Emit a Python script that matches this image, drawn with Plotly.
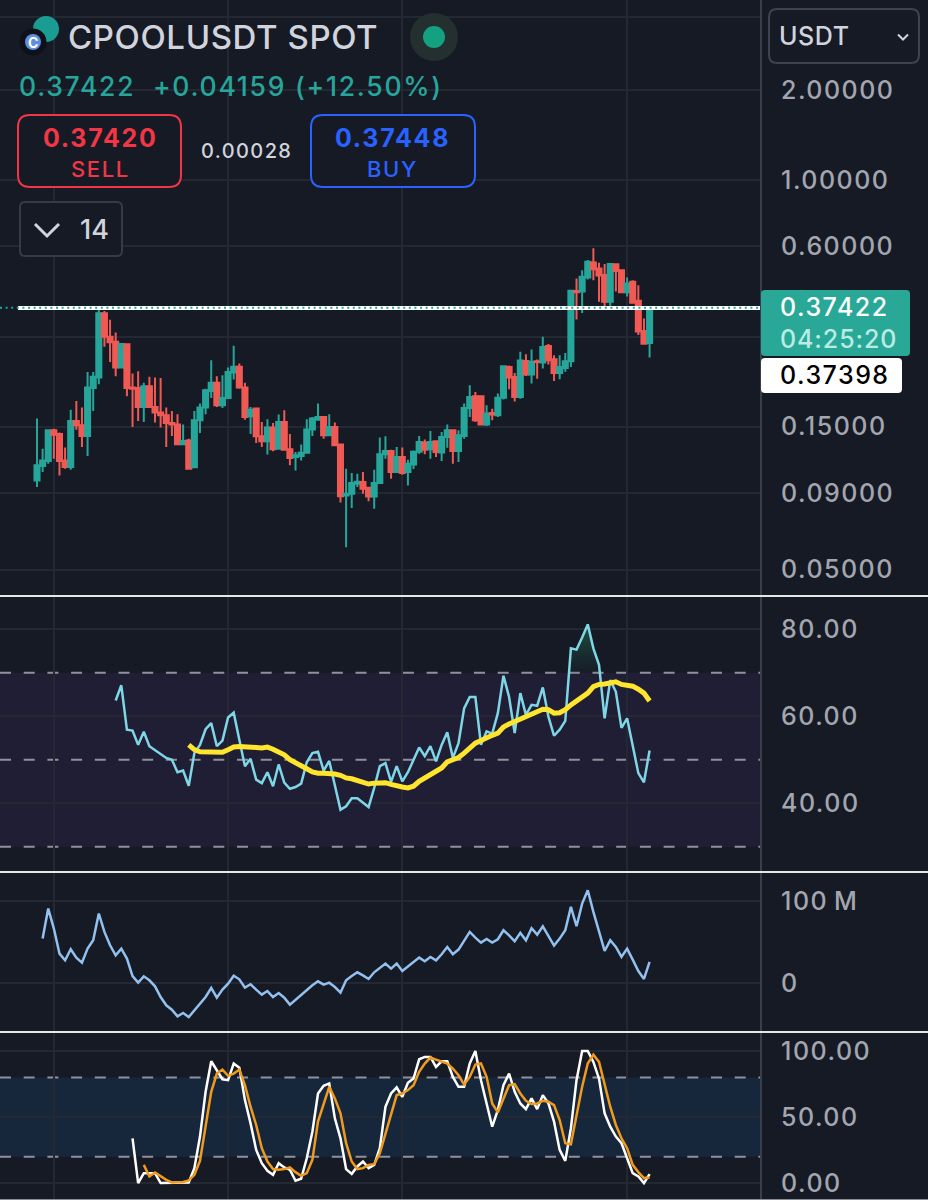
import numpy as np
import plotly.graph_objects as go

# candles, oldest first
open_prices = [
    .0992, .1108, .1151, .1458, .1418, .1157, .1100, .1568, .1517, .1397,
    .2020, .2189, .3591, .2995, .2884, .2364, .2826, .2027, .2020, .1746,
    .2048, .1746, .1672, .1638, .1544, .1525, .1310, .1350, .1097, .1575,
    .1737, .1974, .2101, .1769, .1871, .2275, .2377, .2027, .1625, .1724,
    .1393, .1340, .1490, .1267, .1556, .1260, .1188, .1198, .1228, .1469,
    .1583, .1617, .1404, .1497, .1307, .0883, .0896, .0968, .0980, .0938,
    .0877, .0972, .1213, .1244, .1058, .1188, .1058, .1121, .1238, .1327,
    .1260, .1340, .1229, .1386, .1458, .1244, .1397, .1733, .1896, .1896,
    .1525, .1667, .1638, .1872, .2374, .2200, .1886, .2488, .2240, .2480,
    .2455, .2790, .2520, .2268, .2355, .2480, .4260, .4240, .4725, .5307,
    .5062, .4815, .3920, .5227, .5000, .4216, .4572, .3950, .3130, .2855,
]
high_prices = [
    .1596, .1267, .1466, .1477, .1434, .1277, .1710, .1827, .1737, .2286,
    .2286, .3725, .3652, .3417, .3096, .2848, .2833, .2258, .2298, .2101,
    .2201, .2189, .2183, .1737, .1691, .1651, .1525, .1368, .1691, .1792,
    .2008, .2500, .2212, .2229, .2364, .2797, .2438, .2101, .1746, .1737,
    .1556, .1587, .1544, .1647, .1701, .1418, .1235, .1307, .1587, .1617,
    .1792, .1625, .1651, .1548, .1310, .1086, .1050, .1045, .1058, .0943,
    .1077, .1379, .1393, .1255, .1283, .1277, .1163, .1250, .1397, .1360,
    .1451, .1350, .1440, .1525, .1465, .1458, .1792, .2064, .1960, .1910,
    .1770, .1722, .1935, .2400, .2400, .2268, .2670, .2620, .2715, .2513,
    .2995, .2835, .2600, .2600, .2645, .4290, .4692, .5000, .5400, .5913,
    .5294, .5240, .5266, .5266, .5038, .4725, .4630, .4450, .3450, .3742,
]
low_prices = [
    .0943, .1058, .1128, .1173, .1031, .1086, .1077, .1465, .1283, .1198,
    .1693, .2080, .2776, .2469, .2212, .2351, .1896, .1497, .1568, .1556,
    .1740, .1548, .1490, .1283, .1397, .1303, .1300, .1080, .1094, .1430,
    .1651, .1871, .1746, .1733, .1861, .2155, .2008, .1583, .1418, .1323,
    .1283, .1210, .1241, .1260, .1250, .1114, .1071, .1157, .1225, .1397,
    .1575, .1368, .1397, .1293, .0837, .0594, .0803, .0943, .0896, .0845,
    .0798, .0968, .1173, .1005, .1052, .1037, .0955, .1084, .1219, .1213,
    .1173, .1188, .1151, .1276, .1127, .1143, .1368, .1617, .1555, .1517,
    .1508, .1575, .1617, .1847, .2000, .1822, .1860, .2213, .2090, .2170,
    .2345, .2420, .2132, .2160, .2287, .2374, .3420, .3598, .4655, .4630,
    .3920, .3735, .3790, .4240, .4190, .4080, .3870, .3035, .2820, .2554,
]
close_prices = [
    .1114, .1157, .1458, .1411, .1151, .1100, .1568, .1517, .1397, .2027,
    .2201, .3591, .2995, .2870, .2364, .2833, .2020, .2008, .1746, .2048,
    .1746, .1672, .1638, .1544, .1525, .1310, .1343, .1086, .1575, .1737,
    .1984, .2101, .1769, .1871, .2286, .2377, .2027, .1617, .1710, .1393,
    .1340, .1490, .1260, .1556, .1256, .1179, .1204, .1228, .1469, .1596,
    .1617, .1404, .1497, .1300, .0878, .0896, .0972, .0982, .0931, .0877,
    .0972, .1213, .1244, .1058, .1188, .1050, .1127, .1238, .1333, .1256,
    .1333, .1235, .1386, .1458, .1244, .1404, .1733, .1886, .1575, .1525,
    .1659, .1646, .1872, .2389, .2189, .1886, .2494, .2240, .2470, .2465,
    .2770, .2500, .2268, .2374, .2480, .4267, .4216, .4753, .5334, .5038,
    .4795, .3920, .5240, .4965, .4216, .4512, .3890, .3120, .2840, .37422,
]

# indicators, all end on the last candle
rsi_values = [
    63.6, 67.1, 56.9, 56.7, 53.4, 56.4, 53.1, 52.2, 51.4, 50.4, 50.0, 47.1,
    47.5, 44.0, 51.5, 53.4, 57.0, 58.4, 53.1, 54.4, 59.7, 60.8, 54.6, 48.5,
    50.2, 45.4, 44.6, 47.1, 43.9, 48.9, 44.7, 43.3, 43.7, 44.5, 49.4, 51.5,
    51.8, 47.5, 49.7, 44.3, 38.5, 39.3, 41.1, 41.1, 40.1, 39.1, 43.5, 48.5,
    49.2, 44.9, 48.5, 45.0, 47.1, 50.0, 52.8, 50.8, 53.1, 49.6, 53.4, 56.3,
    50.4, 53.8, 61.8, 64.4, 64.4, 53.4, 56.5, 56.0, 60.7, 69.3, 64.4, 56.1,
    65.3, 60.3, 62.6, 62.4, 66.6, 59.9, 55.5, 56.9, 58.9, 75.6, 75.3, 78.1,
    81.1, 75.6, 71.8, 59.5, 68.3, 65.6, 57.3, 59.5, 53.1, 46.9, 44.8, 52.1,
]
rsi_ma_values = [
    53.4, 52.3, 51.8, 51.8, 51.8, 51.8, 51.7, 52.3, 52.9, 53.0, 53.0, 53.0,
    52.8, 52.7, 52.9, 52.4, 51.9, 51.1, 50.0, 49.4, 48.7, 47.9, 47.2, 46.9,
    46.9, 46.9, 46.7, 46.4, 45.8, 45.6, 45.1, 44.7, 44.4, 44.6, 44.7, 44.7,
    44.3, 43.9, 43.7, 43.5, 43.9, 45.0, 45.8, 46.6, 47.2, 48.1, 49.5, 50.0,
    50.5, 51.5, 52.7, 53.8, 54.4, 55.1, 55.6, 56.1, 57.5, 58.2, 58.8, 59.4,
    59.7, 60.5, 61.2, 61.6, 61.5, 60.7, 60.8, 61.5, 62.6, 63.6, 64.4, 65.3,
    66.8, 67.3, 67.4, 67.7, 67.9, 67.3, 67.2, 66.9, 66.2, 65.3, 63.5,
]
obv_millions = [
    54.1, 90.7, 66.3, 35.8, 27.6, 41.1, 30.9, 24.8, 41.9, 52.0, 84.6, 62.2,
    45.9, 33.7, 41.9, 29.7, 8.5, 0.4, 8.1, 3.3, -4.1, -17.1, -27.2, -32.5,
    -40.7, -36.6, -41.5, -33.3, -26.4, -17.1, -6.1, -17.9, -8.1, -0.8, 8.9,
    4.5, -5.7, -1.6, -8.1, -14.2, -9.8, -17.1, -12.2, -17.9, -26.4, -20.3,
    -15.0, -7.7, -2.8, 2.0, -2.0, 0.4, -4.9, -11.8, 3.3, 8.5, 13.0, 9.3, 4.9,
    13.0, 18.7, 23.6, 17.5, 23.6, 14.6, 20.3, 25.6, 30.9, 26.4, 31.7, 27.6,
    35.0, 43.9, 35.0, 40.7, 52.0, 62.2, 55.3, 49.2, 53.7, 49.2, 53.3, 64.2,
    58.1, 50.8, 61.0, 52.0, 66.7, 58.9, 69.1, 58.1, 45.5, 54.1, 64.2, 92.7,
    69.1, 96.7, 113.0, 86.6, 64.2, 39.0, 52.0, 43.9, 31.7, 41.9, 28.5, 14.6,
    4.9, 25.6,
]
stoch_k = [
    33.9, 0, 7.5, 7.5, 7.5, 0, 0, 0, 0, 0, 0.5, 11.3, 35.2, 69.1, 92.2, 85.4,
    78.6, 77.9, 90.5, 87.4, 62.8, 45.2, 25.1, 15.1, 9.3, 6.3, 15.1, 11.8,
    10.1, 1.8, 3.3, 18.8, 38.9, 67.8, 73.6, 75.4, 49.0, 33.9, 10.6, 7.0,
    12.6, 16.3, 11.3, 13.8, 26.4, 57.8, 67.8, 72.4, 65.3, 75.9, 79.1, 93.7,
    95.5, 95.5, 87.9, 92.2, 92.2, 80.4, 72.9, 72.9, 90.5, 100, 77.9, 60.3,
    42.7, 55.3, 74.1, 82.9, 69.1, 60.3, 56.0, 64.1, 56.0, 66.6, 60.3, 46.5,
    25.1, 16.8, 41.5, 77.9, 100, 100, 91.7, 79.1, 52.8, 42.7, 35.2, 30.2,
    18.8, 7.5, 5.0, 0, 6.8,
]
stoch_d = [
    13.8, 5.0, 8.0, 5.0, 2.5, 0.5, 0.5, 0.8, 2.0, 6.3, 16.8, 41.5, 69.1, 82.9,
    85.9, 81.2, 82.9, 85.9, 74.1, 57.8, 44.0, 26.4, 16.3, 10.6, 10.1, 10.6,
    11.8, 8.3, 5.5, 7.5, 17.6, 46.5, 60.3, 72.9, 64.1, 52.8, 30.2, 16.3, 10.6,
    11.3, 13.8, 14.3, 22.6, 37.7, 52.8, 66.6, 67.8, 70.4, 74.1, 84.2, 90.5,
    95.0, 93.5, 92.2, 90.5, 86.7, 81.7, 74.6, 80.4, 89.7, 90.5, 80.4, 60.3,
    53.5, 64.1, 74.1, 74.9, 67.8, 62.3, 59.8, 60.3, 62.3, 61.6, 59.0, 47.7,
    30.2, 29.4, 51.5, 72.9, 90.5, 97.2, 91.7, 74.1, 57.8, 44.0, 33.9, 26.4,
    13.8, 8.3, 3.8, 4.3,
]

# axis ticks
time_grid = [3, 34, 65, 105]
price_ticks = [3.5, 2, 1, 0.6, 0.3, 0.15, 0.09, 0.05]
price_labels = ["", "2.00000", "1.00000", "0.60000", "", "0.15000", "0.09000", "0.05000"]
rsi_ticks = [80, 60, 40]
rsi_labels = ["80.00", "60.00", "40.00"]
obv_ticks = [100, 0]
obv_labels = ["100\u2009M", "0"]
stoch_ticks = [100, 50, 0]
stoch_labels = ["100.00", "50.00", "0.00"]

last_price = 0.37422
other_price = 0.37398

BG = "#161a25"
GRID = "#242833"
AXIS_LINE = "#3a3e4a"
TICK_TEXT = "#a3a6af"
TEXT = "#d1d4dc"
GREEN = "#26a69a"
RED = "#ef5a55"
DASH = "11px,12.7px"
FONT = "Inter"
W, H = 928, 1200
PLOT_RIGHT = 761
LOG_SCALE = 299.4


def X(px):
    return px / W


def Y(py):
    return 1 - py / H


def Spaced(text, spacing):
    return f'<span style="letter-spacing:{spacing}px">{text}</span>'


def Rounded(x0, y0, x1, y1, r, **kw):
    # rounded box from screen pixels
    path = (
        f"M {X(x0 + r)} {Y(y0)} L {X(x1 - r)} {Y(y0)} Q {X(x1)} {Y(y0)} {X(x1)} {Y(y0 + r)} "
        f"L {X(x1)} {Y(y1 - r)} Q {X(x1)} {Y(y1)} {X(x1 - r)} {Y(y1)} "
        f"L {X(x0 + r)} {Y(y1)} Q {X(x0)} {Y(y1)} {X(x0)} {Y(y1 - r)} "
        f"L {X(x0)} {Y(y0 + r)} Q {X(x0)} {Y(y0)} {X(x0 + r)} {Y(y0)} Z"
    )
    return dict(type="path", xref="paper", yref="paper", path=path, **kw)


def Circle(cx, cy, r, color):
    return dict(type="circle", xref="paper", yref="paper", x0=X(cx - r), x1=X(cx + r),
                y0=Y(cy + r), y1=Y(cy - r), fillcolor=color, line_width=0)


def Chevron(cx, cy, w, h, color, width):
    path = f"M {X(cx - w)} {Y(cy - h)} L {X(cx)} {Y(cy + h)} L {X(cx + w)} {Y(cy - h)}"
    return dict(type="path", xref="paper", yref="paper", path=path, layer="above",
                line=dict(color=color, width=width))


def Label(x, y, text, size, color, anchor="left", weight=500, spacing=0):
    return dict(xref="paper", yref="paper", x=X(x), y=Y(y), text=Spaced(text, spacing) if spacing else text,
                showarrow=False, xanchor=anchor, yanchor="middle",
                font=dict(family=FONT, size=size, color=color, weight=weight))


def Tail(values):
    return list(range(len(open_prices) - len(values), len(open_prices)))


def OverboughtArea(x, y, level):
    # part of the line above the level, with the crossing points added
    xs, ys = [], []
    for i in range(len(x) - 1):
        if y[i] >= level:
            xs.append(x[i])
            ys.append(y[i])
        if (y[i] - level) * (y[i + 1] - level) < 0:
            xs.append(x[i] + (level - y[i]) / (y[i + 1] - y[i]))
            ys.append(level)
    return xs, ys


candle_x = list(range(len(open_prices)))
fig = go.Figure()
fig.add_trace(go.Candlestick(
    x=candle_x, open=open_prices, high=high_prices, low=low_prices, close=close_prices,
    xaxis="x", yaxis="y", whiskerwidth=0,
    increasing=dict(line=dict(color=GREEN, width=2), fillcolor=GREEN),
    decreasing=dict(line=dict(color=RED, width=2), fillcolor=RED),
))

rsi_x = Tail(rsi_values)
area_x, area_y = OverboughtArea(rsi_x, rsi_values, 70)
fig.add_trace(go.Scatter(x=area_x, y=[70] * len(area_x), xaxis="x2", yaxis="y2", mode="lines",
                         line=dict(width=0)))
fig.add_trace(go.Scatter(
    x=area_x, y=area_y, xaxis="x2", yaxis="y2", mode="lines", line=dict(width=0), fill="tonexty",
    fillgradient=dict(type="vertical", colorscale=[[0, "rgba(30,60,60,0.1)"], [1, "rgba(30,90,70,0.9)"]]),
))
fig.add_trace(go.Scatter(x=rsi_x, y=rsi_values, xaxis="x2", yaxis="y2", mode="lines",
                         line=dict(color="#7fd6e6", width=2.5)))
fig.add_trace(go.Scatter(x=Tail(rsi_ma_values), y=rsi_ma_values, xaxis="x2", yaxis="y2", mode="lines",
                         line=dict(color="#ffe52e", width=5)))
fig.add_trace(go.Scatter(x=Tail(obv_millions), y=obv_millions, xaxis="x3", yaxis="y3", mode="lines",
                         line=dict(color="#93c0ee", width=2.5)))
fig.add_trace(go.Scatter(x=Tail(stoch_k), y=stoch_k, xaxis="x4", yaxis="y4", mode="lines",
                         line=dict(color="#ffffff", width=2.5)))
fig.add_trace(go.Scatter(x=Tail(stoch_d), y=stoch_d, xaxis="x4", yaxis="y4", mode="lines",
                         line=dict(color="#f09a1e", width=2.5)))

x_range = [(0 - 37) / 5.62, (PLOT_RIGHT - 37) / 5.62]
x_axis = dict(range=x_range, domain=[0, PLOT_RIGHT / W], tickmode="array", tickvals=time_grid,
              showticklabels=False, showgrid=True, gridcolor=GRID, gridwidth=2, zeroline=False,
              ticks="", rangeslider=dict(visible=False))
y_axis = dict(side="right", tickmode="array", showgrid=True, gridcolor=GRID, gridwidth=2, zeroline=False,
              ticks="outside", ticklen=14, tickcolor="rgba(0,0,0,0)",
              tickfont=dict(family=FONT, size=25, color=TICK_TEXT, weight=500))

band_dash = dict(color="#8f919c", width=2, dash=DASH)
shapes = [
    # indicator bands
    dict(type="rect", xref="x2 domain", yref="y2", x0=0, x1=1, y0=30, y1=70,
         fillcolor="#201e34", line_width=0, layer="below"),
    dict(type="rect", xref="x4 domain", yref="y4", x0=0, x1=1, y0=20, y1=80,
         fillcolor="#16273c", line_width=0, layer="below"),
]
for level in [70, 50, 30]:
    shapes.append(dict(type="line", xref="x2 domain", yref="y2", x0=0, x1=1, y0=level, y1=level,
                       line=band_dash, layer="below"))
for level, dash_color in [(80, "#8f919c"), (50, "#4a5264"), (20, "#8f919c")]:
    shapes.append(dict(type="line", xref="x4 domain", yref="y4", x0=0, x1=1, y0=level, y1=level,
                       line=dict(color=dash_color, width=2, dash=DASH), layer="below"))
shapes += [
    # current price lines
    dict(type="line", xref="paper", yref="y", x0=X(18), x1=X(PLOT_RIGHT), y0=other_price, y1=other_price,
         line=dict(color="#ffffff", width=4)),
    dict(type="line", xref="paper", yref="y", x0=0, x1=X(PLOT_RIGHT), y0=last_price, y1=last_price,
         line=dict(color=GREEN, width=2, dash="2px,3.6px")),
    # separators
    dict(type="line", xref="paper", yref="paper", x0=X(PLOT_RIGHT), x1=X(PLOT_RIGHT), y0=0, y1=1,
         line=dict(color=AXIS_LINE, width=2), layer="above"),
]
for sep in [596, 872, 1032]:
    shapes.append(dict(type="line", xref="paper", yref="paper", x0=0, x1=1, y0=Y(sep), y1=Y(sep),
                       line=dict(color="#e6e7ea", width=2)))
shapes += [
    dict(type="line", xref="paper", yref="paper", x0=0, x1=1, y0=Y(1199.5), y1=Y(1199.5),
         line=dict(color="#8a8d96", width=1)),
    # header widgets
    Circle(434, 37, 24, "#23302f"),
    Circle(434, 37, 11, "#13a182"),
    Circle(46, 29, 13, "#1b9c92"),
    Circle(33, 42, 13.5, "#0e1119"),
    Circle(33, 42, 8, "#5f8fe0"),
    Rounded(18, 115, 181, 187, 12, line=dict(color="#f23645", width=2), fillcolor=BG),
    Rounded(311, 115, 475, 187, 12, line=dict(color="#2962ff", width=2), fillcolor=BG),
    Rounded(20, 202, 122, 256, 5, line=dict(color="#363a45", width=2), fillcolor=BG),
    Rounded(769, 9, 919, 63, 8, line=dict(color="#3f434f", width=2), fillcolor=BG),
    Chevron(47, 230, 12, 6, TEXT, 3),
    Chevron(903, 37, 5, 2.5, TEXT, 2),
    # price tags
    Rounded(761, 290, 910, 356, 4, fillcolor="#29a897", line_width=0, layer="above"),
    Rounded(761, 358, 902, 393, 4, fillcolor="#ffffff", line_width=0, layer="above"),
]

annotations = [
    Label(66, 37, "CPOOLUSDT SPOT", 33, TEXT, spacing=0.6),
    Label(33, 42, "C", 14, "#ffffff", "center", 700),
    Label(17, 86, "0.37422&nbsp;&nbsp;+0.04159 (+12.50%)", 26.5, GREEN, spacing=1.75),
    Label(100, 138, "0.37420", 25, "#f23645", "center", 700, 1.7),
    Label(100, 169, "SELL", 22, "#f23645", "center", spacing=1.6),
    Label(246, 151, "0.00028", 20, TEXT, "center", spacing=1.4),
    Label(392, 138, "0.37448", 25, "#2962ff", "center", 700, 1.7),
    Label(392, 169, "BUY", 22, "#2962ff", "center", spacing=1.6),
    Label(94, 230, "14", 27, TEXT, "center"),
    Label(777, 36, "USDT", 25, TEXT, spacing=0.6),
    Label(778, 307, "0.37422", 25, "#ffffff", spacing=1.5),
    Label(778, 339, "04:25:20", 25, "#b9ece4", spacing=0.9),
    Label(778, 375, "0.37398", 25, "#000000", spacing=1.5),
]

fig.update_layout(
    width=W, height=H, autosize=False, showlegend=False, hovermode=False,
    margin=dict(l=0, r=0, t=0, b=0), paper_bgcolor=BG, plot_bgcolor=BG,
    shapes=shapes, annotations=annotations, boxgap=0.1, boxgroupgap=0,
    xaxis=dict(x_axis, anchor="y"),
    xaxis2=dict(x_axis, anchor="y2", matches="x"),
    xaxis3=dict(x_axis, anchor="y3", matches="x"),
    xaxis4=dict(x_axis, anchor="y4", matches="x"),
    yaxis=dict(y_axis, anchor="x", type="log", range=[(180 - 595) / LOG_SCALE, 180 / LOG_SCALE], domain=[Y(595), 1],
               tickvals=price_ticks, ticktext=[Spaced(t, 1.5) if t else t for t in price_labels]),
    yaxis2=dict(y_axis, anchor="x2", range=[24.4, 87.4], domain=[Y(871), Y(597)],
                tickvals=rsi_ticks, ticktext=[Spaced(t, 1.5) for t in rsi_labels]),
    yaxis3=dict(y_axis, anchor="x3", range=[-58.5, 134], domain=[Y(1031), Y(873)],
                tickvals=obv_ticks, ticktext=[Spaced(t, 1.5) for t in obv_labels]),
    yaxis4=dict(y_axis, anchor="x4", range=[-12.8, 113.6], domain=[0, Y(1033)],
                tickvals=stoch_ticks, ticktext=[Spaced(t, 1.5) for t in stoch_labels]),
)

fig.write_html("out.html", post_script="document.body.style.margin = '0';", config={"displayModeBar": False})
